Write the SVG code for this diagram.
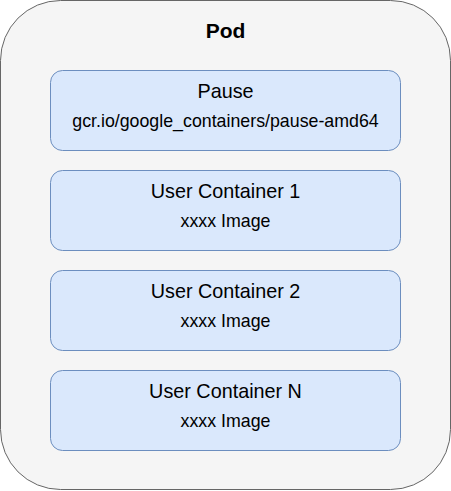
<svg xmlns="http://www.w3.org/2000/svg" width="451" height="491" viewBox="0 0 451 491">
<style>
.pod{fill:#f5f5f5;stroke:#666666;stroke-width:1}
.box{fill:#dae8fc;stroke:#6c8ebf;stroke-width:1}
text{font-family:"Liberation Sans",Arial,sans-serif;fill:#000;text-anchor:middle}
.t{font-size:19.8px}
.s{font-size:17.8px}
.b{font-size:21px;font-weight:bold}
</style>
<g id="pod">
<rect class="pod" x="0.5" y="0.5" width="450" height="489" rx="60" ry="60"/>
<text class="b" x="225.5" y="38">Pod</text>
</g>
<g id="pause">
<rect class="box" x="50.5" y="70.5" width="350" height="80" rx="12" ry="12"/>
<text class="t" x="225.5" y="98">Pause</text>
<text class="s" x="225.5" y="127">gcr.io/google_containers/pause-amd64</text>
</g>
<g id="uc1">
<rect class="box" x="50.5" y="170.5" width="350" height="80" rx="12" ry="12"/>
<text class="t" x="225.5" y="198">User Container 1</text>
<text class="s" x="225.5" y="227">xxxx Image</text>
</g>
<g id="uc2">
<rect class="box" x="50.5" y="270.5" width="350" height="80" rx="12" ry="12"/>
<text class="t" x="225.5" y="298">User Container 2</text>
<text class="s" x="225.5" y="327">xxxx Image</text>
</g>
<g id="ucn">
<rect class="box" x="50.5" y="370.5" width="350" height="80" rx="12" ry="12"/>
<text class="t" x="225.5" y="398">User Container N</text>
<text class="s" x="225.5" y="427">xxxx Image</text>
</g>
<g id="connectors"/>
</svg>
